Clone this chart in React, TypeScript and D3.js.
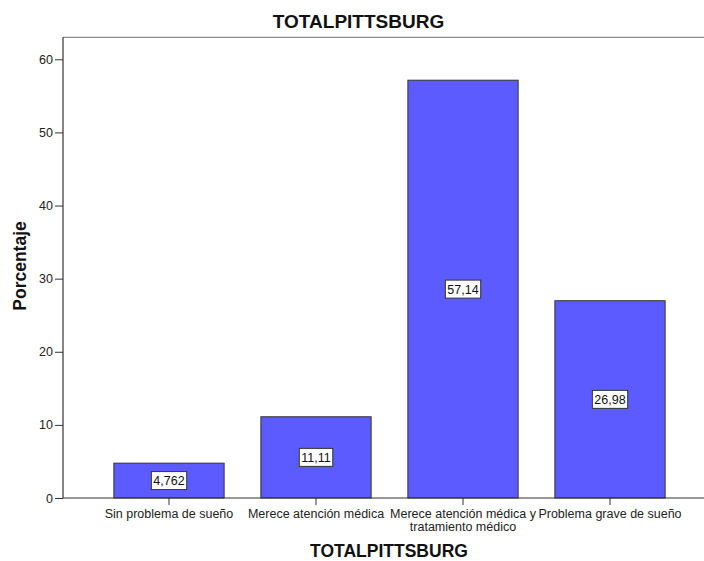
import { useRef, useEffect } from "react";
import * as d3 from "d3";

const categories = [
  "Sin problema de sueño",
  "Merece atención médica",
  "Merece atención médica y tratamiento médico",
  "Problema grave de sueño",
];
const percentages = [4.762, 11.11, 57.14, 26.98];
const valueLabels = ["4,762", "11,11", "57,14", "26,98"];
const yTicks = [0, 10, 20, 30, 40, 50, 60];

const W = 704;
const H = 561;

export default function App() {
  const ref = useRef<SVGSVGElement>(null);

  useEffect(() => {
    const svg = d3.select(ref.current);
    svg.selectAll("*").remove();
    const font = "'Liberation Sans', Arial, sans-serif";
    const small = 12.5;

    const left = 63;
    const right = 760; // frame runs off the image on the right
    const y = d3.scaleLinear().domain([0, 60]).range([498, 59.3]);
    const top = y(63);

    const x = d3
      .scaleBand<string>()
      .domain(categories)
      .range([95.5, 683.5])
      .paddingInner(0.25)
      .paddingOuter(0.125);

    // frame
    svg.append("line")
      .attr("x1", left).attr("x2", right)
      .attr("y1", top).attr("y2", top)
      .attr("stroke", "#8a8a8a").attr("stroke-width", 1.2);

    // bars
    const g = svg.append("g");
    g.selectAll("rect")
      .data(percentages)
      .join("rect")
      .attr("x", (_, i) => x(categories[i])!)
      .attr("width", x.bandwidth())
      .attr("y", (d) => y(d))
      .attr("height", (d) => y(0) - y(d))
      .attr("fill", "#5b5bff")
      .attr("stroke", "#333")
      .attr("stroke-width", 1);

    // value labels
    percentages.forEach((v, i) => {
      const cx = x(categories[i])! + x.bandwidth() / 2;
      const cy = y(v / 2);
      const t = g.append("text")
        .attr("x", cx).attr("y", cy + 4.5)
        .attr("text-anchor", "middle")
        .attr("font-family", font).attr("font-size", small)
        .attr("fill", "#111")
        .text(valueLabels[i]);
      const bb = (t.node() as SVGTextElement).getBBox();
      g.insert("rect", () => t.node())
        .attr("x", bb.x - 2).attr("y", cy - 9)
        .attr("width", bb.width + 4).attr("height", 18)
        .attr("fill", "white").attr("stroke", "#333").attr("stroke-width", 1);
    });

    // y axis
    const ya = svg.append("g").attr("transform", `translate(${left},0)`)
      .call(d3.axisLeft(y).tickValues(yTicks).tickSize(8).tickPadding(2).tickSizeOuter(0));
    ya.select(".domain").remove();
    ya.selectAll("line").attr("stroke", "#333");
    ya.selectAll("text").attr("font-family", font).attr("font-size", small).attr("fill", "#222");
    svg.append("line")
      .attr("x1", left).attr("x2", left)
      .attr("y1", top).attr("y2", y(0))
      .attr("stroke", "#333").attr("stroke-width", 1.2);

    // x axis
    svg.append("line")
      .attr("x1", left).attr("x2", right)
      .attr("y1", y(0)).attr("y2", y(0))
      .attr("stroke", "#333").attr("stroke-width", 1.2);
    const xa = svg.append("g");
    categories.forEach((c, i) => {
      const cx = x(c)! + x.bandwidth() / 2;
      xa.append("line")
        .attr("x1", cx).attr("x2", cx)
        .attr("y1", y(0)).attr("y2", y(0) + 7)
        .attr("stroke", "#333");
      const lines = i === 2 ? ["Merece atención médica y", "tratamiento médico"] : [c];
      lines.forEach((ln, j) => {
        xa.append("text")
          .attr("x", cx).attr("y", 518 + j * 12.5)
          .attr("text-anchor", "middle")
          .attr("font-family", font).attr("font-size", small)
          .attr("fill", "#222")
          .text(ln);
      });
    });

    // titles
    svg.append("text")
      .attr("x", 358.5).attr("y", 27.5)
      .attr("text-anchor", "middle")
      .attr("font-family", font).attr("font-size", 19).attr("font-weight", "bold")
      .attr("fill", "#111")
      .text("TOTALPITTSBURG");
    svg.append("text")
      .attr("x", 389).attr("y", 557)
      .attr("text-anchor", "middle")
      .attr("font-family", font).attr("font-size", 17.5).attr("font-weight", "bold")
      .attr("fill", "#111")
      .text("TOTALPITTSBURG");
    svg.append("text")
      .attr("transform", `translate(26,266) rotate(-90)`)
      .attr("text-anchor", "middle")
      .attr("font-family", font).attr("font-size", 17.5).attr("font-weight", "bold")
      .attr("fill", "#111")
      .text("Porcentaje");
  }, []);

  return (
    <svg
      ref={ref}
      width={W}
      height={H}
      style={{ position: "absolute", left: 0, top: 0, background: "white" }}
    />
  );
}
